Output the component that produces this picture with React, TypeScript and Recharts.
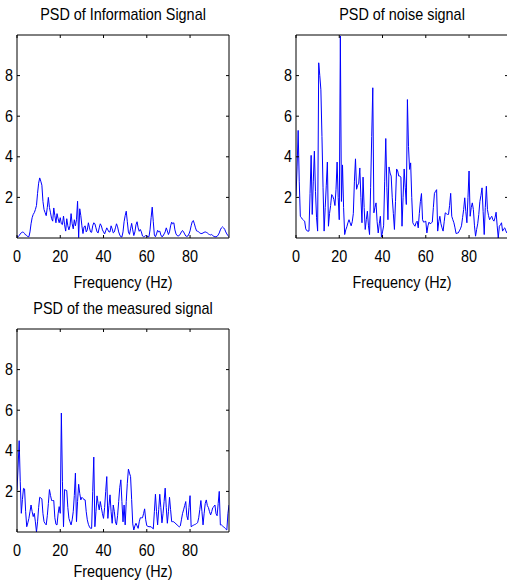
import { LineChart, Line, XAxis, YAxis } from "recharts";

// frequency spacing of the PSD bins (Hz)
const DF = 0.5;
const xTicks = [0, 20, 40, 60, 80];
const yTicks = [2, 4, 6, 8];

const infoPsd = [
  0.05, 0.06, 0.12, 0.2, 0.26, 0.29, 0.28, 0.22, 0.15, 0.12,
  0.07, 0.06, 0.3, 0.7, 1.0, 1.16, 1.25, 1.4, 1.6, 2.2,
  2.7, 2.96, 2.8, 2.6, 1.8, 1.4, 1.25, 1.1, 1.5, 2.0,
  1.5, 1.24, 0.95, 0.83, 1.48, 1.1, 0.75, 1.2, 0.95, 0.75,
  1.0, 0.7, 0.66, 1.08, 0.65, 0.34, 0.95, 0.6, 0.4, 0.6,
  1.2, 0.7, 0.45, 0.9, 0.6, 0.9, 1.81, 0.02, 1.44, 1.1,
  0.6, 0.22, 0.55, 0.6, 0.3, 0.4, 0.75, 0.5, 0.3, 0.28,
  0.6, 0.75, 0.7, 0.5, 0.3, 0.25, 0.5, 0.7, 0.6, 0.4,
  0.3, 0.2, 0.35, 0.5, 0.4, 0.3, 0.3, 0.6, 0.45, 0.25,
  0.3, 0.5, 0.7, 0.55, 0.3, 0.15, 0.06, 0.05, 0.3, 0.8,
  1.1, 1.32, 0.8, 0.3, 0.18, 0.45, 0.72, 0.4, 0.12, 0.3,
  0.65, 0.8, 0.5, 0.33, 0.42, 0.3, 0.1, 0.06, 0.08, 0.12,
  0.1, 0.06, 0.06, 0.4, 1.0, 1.52, 0.8, 0.15, 0.06, 0.2,
  0.38, 0.3, 0.34, 0.15, 0.06, 0.1, 0.2, 0.3, 0.5, 0.35,
  0.17, 0.3, 0.6, 0.78, 0.7, 0.75, 0.4, 0.2, 0.12, 0.1,
  0.12, 0.2, 0.3, 0.37, 0.3, 0.2, 0.1, 0.08, 0.1, 0.2,
  0.35, 0.6, 0.8, 0.86, 0.7, 0.5, 0.35, 0.33, 0.3, 0.25,
  0.22, 0.22, 0.25, 0.28, 0.3, 0.28, 0.25, 0.2, 0.17, 0.15,
  0.17, 0.12, 0.08, 0.06, 0.06, 0.08, 0.15, 0.25, 0.4, 0.5,
  0.55, 0.5, 0.43, 0.3, 0.2, 0.12, 0.06,
];

const noisePsd = [
  2.06, 3.5, 5.3, 2.8, 1.07, 1.0, 0.92, 0.87, 0.83, 0.45,
  0.36, 0.34, 0.34, 2.2, 4.07, 1.16, 2.8, 4.28, 2.3, 1.0,
  0.34, 8.63, 8.0, 7.3, 5.0, 2.5, 0.34, 1.5, 2.6, 3.74,
  0.58, 1.2, 1.6, 2.14, 2.05, 1.9, 1.6, 2.4, 3.74, 2.0,
  0.9, 9.95, 1.8, 3.6, 1.5, 0.17, 0.4, 0.55, 0.75, 0.9,
  0.75, 0.6, 0.8, 1.2, 2.8, 3.9, 2.4, 2.6, 2.7, 3.45,
  2.0, 0.75, 3.0, 1.5, 0.42, 0.9, 1.32, 0.6, 0.17, 2.5,
  5.0, 7.4, 1.24, 1.5, 1.73, 0.8, 0.25, 0.7, 1.07, 0.05,
  0.3, 0.6, 2.8, 4.9, 2.5, 0.9, 3.5, 3.2, 3.05, 1.98,
  1.2, 0.42, 1.8, 3.4, 3.3, 3.05, 3.05, 3.0, 0.58, 2.0,
  3.4, 2.5, 1.65, 6.82, 4.5, 3.38, 3.7, 2.0, 0.75, 0.65,
  0.58, 0.75, 0.83, 0.5, 1.2, 1.8, 2.19, 0.9, 0.78, 0.8,
  0.83, 0.25, 0.6, 0.78, 0.7, 0.74, 0.78, 1.5, 2.2, 2.3,
  2.38, 0.34, 0.8, 1.07, 0.7, 0.5, 0.34, 0.8, 1.24, 1.2,
  1.16, 1.16, 1.6, 2.2, 1.07, 0.9, 0.75, 0.5, 0.22, 0.24,
  0.25, 0.35, 0.45, 0.6, 1.0, 1.4, 1.98, 1.3, 0.75, 2.0,
  3.3, 1.07, 1.5, 1.73, 1.4, 0.6, 0.09, 0.42, 0.7, 1.16,
  1.8, 2.1, 2.47, 1.3, 0.17, 1.5, 2.55, 1.4, 1.1, 0.9,
  1.0, 1.07, 0.9, 0.83, 1.0, 1.27, 0.6, 0.0, 0.58, 0.65,
  0.75, 0.34, 0.45, 0.5, 0.35, 0.25, 0.4,
];

const measuredPsd = [
  2.07, 3.2, 4.5, 2.5, 0.92, 1.6, 2.15, 2.12, 1.0, 0.26,
  0.45, 0.67, 1.0, 1.33, 1.0, 0.76, 0.92, 0.5, 0.0, 0.5,
  1.2, 1.71, 1.68, 1.63, 0.9, 0.51, 0.42, 0.35, 0.8, 1.4,
  2.09, 1.8, 1.55, 1.55, 1.55, 0.7, 0.38, 0.35, 0.9, 1.25,
  0.92, 5.86, 2.5, 0.26, 2.09, 2.06, 2.04, 1.2, 0.67, 0.5,
  0.35, 0.6, 1.0, 1.8, 2.9, 0.51, 1.5, 2.35, 1.9, 1.58,
  1.71, 1.65, 1.6, 1.58, 1.0, 0.6, 0.38, 0.25, 0.18, 0.18,
  2.0, 3.69, 0.26, 1.0, 1.78, 1.4, 1.09, 1.5, 1.2, 0.9,
  0.67, 1.2, 2.0, 2.73, 0.67, 1.3, 1.83, 1.0, 0.43, 1.33,
  1.0, 0.5, 0.35, 0.8, 1.5, 2.2, 2.57, 1.5, 0.5, 1.33,
  0.35, 1.5, 2.4, 3.1, 2.9, 2.73, 1.6, 0.4, 0.1, 0.3,
  0.43, 0.3, 0.18, 0.5, 0.7, 0.7, 0.7, 0.9, 1.14, 0.6,
  0.31, 0.28, 0.26, 0.26, 0.26, 0.2, 0.15, 1.0, 1.86, 1.0,
  0.35, 1.1, 1.86, 1.2, 0.45, 0.9, 1.5, 2.16, 1.2, 0.43,
  1.0, 1.71, 1.1, 0.51, 0.51, 0.5, 0.45, 0.4, 0.35, 0.3,
  0.25, 0.3, 0.6, 0.9, 1.09, 1.3, 1.5, 0.8, 0.6, 1.2,
  1.79, 0.26, 0.3, 0.33, 0.36, 0.38, 0.42, 0.46, 0.7, 1.1,
  1.55, 1.0, 0.35, 0.9, 1.4, 1.58, 1.3, 1.2, 1.0, 0.84,
  1.0, 1.2, 1.25, 1.33, 0.9, 0.8, 1.4, 2.0, 0.35, 0.35,
  0.3, 0.26, 0.2, 0.15, 0.1, 0.9, 1.33,
];

const toRows = (vals: number[]) => vals.map((v, i) => ({ f: i * DF, psd: v }));

const FONT = '"Liberation Sans", Arial, Helvetica, sans-serif';

const Label = ({ x, y, anchor = "middle", children }: any) => (
  <text
    transform={`translate(${x},${y}) scale(0.9,1)`}
    textAnchor={anchor}
    fontFamily={FONT}
    fontSize={16}
    fill="#000"
  >
    {children}
  </text>
);

const BottomTick = ({ x, y, payload }: any) => (
  <g>
    <line x1={x} y1={y} x2={x} y2={y - 3} stroke="#000" />
    <Label x={x} y={y + 24}>{payload.value}</Label>
  </g>
);
const TopTick = ({ x, y }: any) => <line x1={x} y1={y} x2={x} y2={y + 3} stroke="#000" />;
const LeftTick = ({ x, y, payload }: any) => (
  <g>
    <line x1={x} y1={y} x2={x + 3} y2={y} stroke="#000" />
    <Label x={x - 4} y={y + 5.5} anchor="end">{payload.value}</Label>
  </g>
);
const RightTick = ({ x, y }: any) => <line x1={x} y1={y} x2={x - 3} y2={y} stroke="#000" />;

const axisLine = { stroke: "#000", strokeWidth: 1 };

const Panel = ({ left, top, values }: { left: number; top: number; values: number[] }) => (
  <div style={{ position: "absolute", left, top }}>
    <LineChart width={250} height={300} data={toRows(values)} margin={{ top: 34, right: 20, bottom: 0, left: 0 }}>
      <XAxis xAxisId="b" dataKey="f" type="number" domain={[0, 98]} ticks={xTicks} interval={0}
        allowDataOverflow tickLine={false} tickSize={0} tickMargin={0} axisLine={axisLine}
        tick={(p: any) => <BottomTick {...p} />} height={62} />
      <XAxis xAxisId="t" orientation="top" dataKey="f" type="number" domain={[0, 98]} ticks={xTicks} interval={0}
        allowDataOverflow tickLine={false} tickSize={0} tickMargin={0} axisLine={axisLine}
        tick={(p: any) => <TopTick {...p} />} height={1} />
      <YAxis yAxisId="l" type="number" domain={[0, 10]} ticks={yTicks} interval={0}
        allowDataOverflow tickLine={false} tickSize={0} tickMargin={0} axisLine={axisLine}
        tick={(p: any) => <LeftTick {...p} />} width={17} />
      <YAxis yAxisId="r" orientation="right" type="number" domain={[0, 10]} ticks={yTicks} interval={0}
        allowDataOverflow tickLine={false} tickSize={0} tickMargin={0} axisLine={axisLine}
        tick={(p: any) => <RightTick {...p} />} width={1} />
      {/* invisible series so the top and right axes are drawn */}
      <Line xAxisId="t" yAxisId="r" dataKey="psd" stroke="none" dot={false} activeDot={false}
        isAnimationActive={false} />
      <Line xAxisId="b" yAxisId="l" dataKey="psd" type="linear" stroke="#0000ff" strokeWidth={1}
        dot={false} isAnimationActive={false} />
    </LineChart>
  </div>
);

export default function App() {
  return (
    <div style={{ position: "absolute", left: 0, top: 0, width: 507, height: 586, overflow: "hidden", background: "#fff" }}>
      <Panel left={0} top={0} values={infoPsd} />
      <Panel left={279} top={0} values={noisePsd} />
      <Panel left={0} top={294} values={measuredPsd} />
      <svg width={507} height={586} style={{ position: "absolute", left: 0, top: 0, pointerEvents: "none" }}>
        <Label x={123} y={20}>PSD of Information Signal</Label>
        <Label x={402} y={20}>PSD of noise signal</Label>
        <Label x={123} y={314}>PSD of the measured signal</Label>
        <Label x={123} y={288}>Frequency (Hz)</Label>
        <Label x={402} y={288}>Frequency (Hz)</Label>
        <Label x={123} y={577}>Frequency (Hz)</Label>
      </svg>
    </div>
  );
}
